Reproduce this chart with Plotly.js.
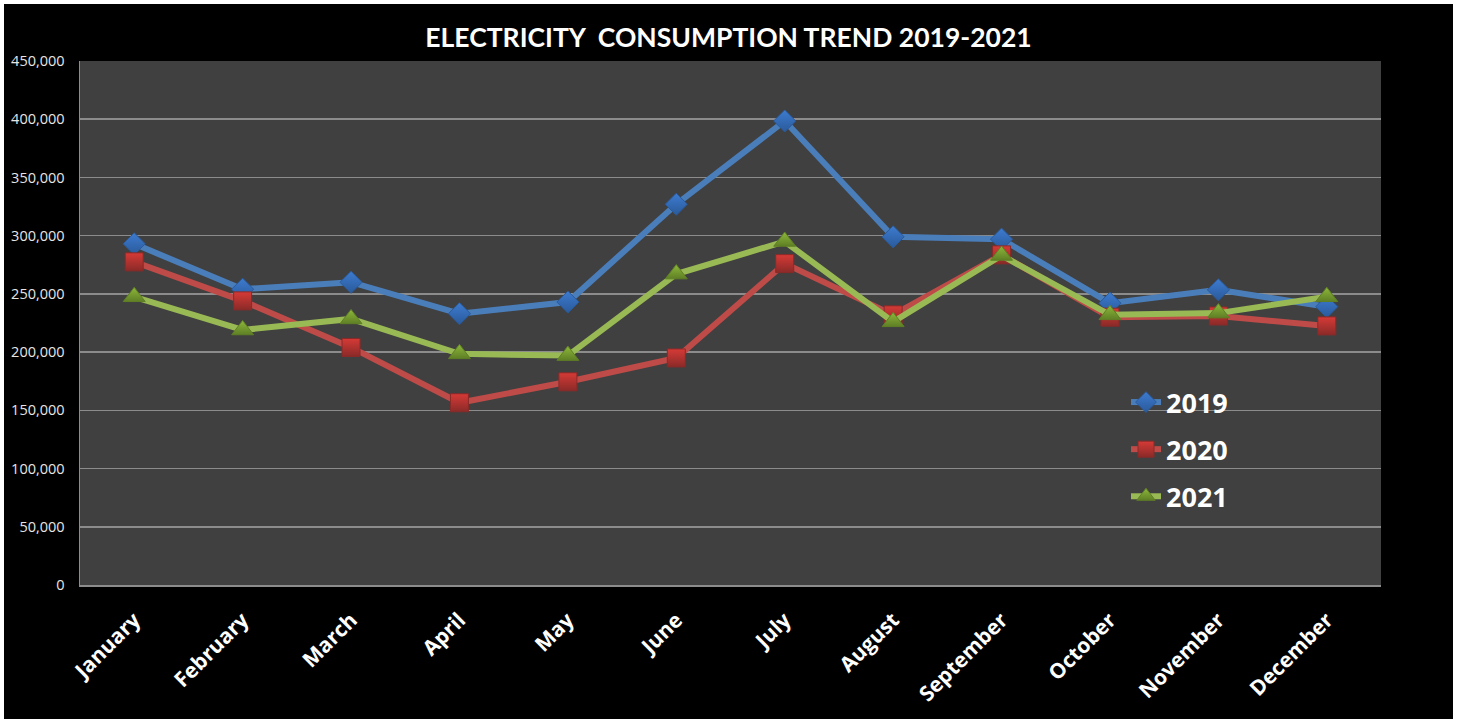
<!DOCTYPE html>
<html>
<head>
<meta charset="utf-8">
<script src="https://cdn.plot.ly/plotly-3.0.1.min.js"></script>
<style>
  html, body { margin: 0; padding: 0; background: #ffffff; width: 1460px; height: 719px; overflow: hidden; }
  #chart { position: absolute; left: 4px; top: 4px; width: 1449px; height: 715px; background: #000; }
</style>
</head>
<body>
<div id="chart"></div>
<script>
const months = ["January","February","March","April","May","June","July","August","September","October","November","December"];
const seriesNames = ["2019","2020","2021"];
const y2019 = [293000, 254000, 260000, 233000, 243000, 327000, 398500, 299000, 297000, 242000, 253500, 239000];
const y2020 = [277500, 244000, 204000, 156500, 174500, 195000, 276000, 232000, 283500, 230000, 231000, 222500];
const y2021 = [247500, 219000, 228500, 198500, 197000, 267000, 295000, 226000, 283000, 232000, 233500, 247500];
const yTicks = [0, 50000, 100000, 150000, 200000, 250000, 300000, 350000, 400000, 450000];

const styles = [
  {line: "#4a7ebb", marker: "#3d7bd0", edge: "#2a5a9a", symbol: "diamond", size: 17},
  {line: "#be4b48", marker: "#d63a36", edge: "#8a2a28", symbol: "square", size: 18},
  {line: "#98b954", marker: "#8db83a", edge: "#5f7f25", symbol: "triangle-up", size: 19}
];
const data = [y2019, y2020, y2021].map((ys, i) => ({
  type: "scatter",
  mode: "lines+markers",
  name: seriesNames[i],
  legendgroup: "g" + i,
  x: months,
  y: ys,
  line: {color: styles[i].line, width: 6},
  marker: {
    symbol: styles[i].symbol,
    size: styles[i].size,
    color: styles[i].marker,
    line: {color: styles[i].edge, width: 1},
    gradient: {type: "vertical", color: styles[i].edge}
  }
}));

const layout = {
  width: 1449,
  height: 715,
  paper_bgcolor: "#000000",
  plot_bgcolor: "#404040",
  margin: {l: 76, r: 72, t: 57, b: 133.5},
  title: {
    text: "<b>ELECTRICITY\u00A0\u00A0CONSUMPTION TREND 2019-2021</b>",
    font: {family: "Lato, 'Open Sans', sans-serif", size: 26.5, color: "#ffffff"},
    x: 0.5, xanchor: "center",
    y: 1 - 34 / 715, yanchor: "middle"
  },
  xaxis: {
    type: "category",
    range: [-0.5, 11.5],
    tickangle: -45,
    tickfont: {family: "'Open Sans', sans-serif", size: 21, color: "#ffffff", weight: "bold"},
    showgrid: false,
    showline: true,
    linecolor: "#8c8c8c",
    linewidth: 1.5,
    ticks: "",
    ticklabelstandoff: 13,
    zeroline: false,
    fixedrange: true
  },
  yaxis: {
    range: [0, 450000],
    tickvals: yTicks,
    tickformat: ",d",
    tickfont: {family: "'Open Sans', sans-serif", size: 14.5, color: "#e6e6e6"},
    showgrid: true,
    gridcolor: "#8c8c8c",
    gridwidth: 1.5,
    showline: true,
    linecolor: "#8c8c8c",
    linewidth: 1.5,
    ticks: "",
    ticklabelstandoff: 11,
    zeroline: false,
    fixedrange: true
  },
  showlegend: true,
  legend: {
    x: 0.804, xanchor: "left",
    y: 0.395, yanchor: "top",
    bgcolor: "rgba(0,0,0,0)",
    font: {family: "'Open Sans', sans-serif", size: 27, color: "#ffffff", weight: "bold"},
    traceorder: "grouped",
    tracegroupgap: 9,
    itemsizing: "trace"
  },
  hovermode: false
};

Plotly.newPlot("chart", data, layout, {displayModeBar: false, staticPlot: true});
</script>
</body>
</html>
